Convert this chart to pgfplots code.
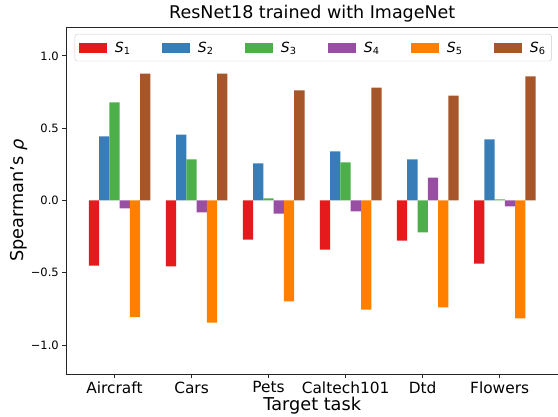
\documentclass[border=0pt]{standalone}
\usepackage{fontspec}
\setmainfont{DejaVu Sans}
\usepackage{pgfplots}
\pgfplotsset{compat=1.18}

\definecolor{c1}{HTML}{E41A1C}
\definecolor{c2}{HTML}{377EB8}
\definecolor{c3}{HTML}{4DAF4A}
\definecolor{c4}{HTML}{984EA3}
\definecolor{c5}{HTML}{FF7F00}
\definecolor{c6}{HTML}{A65628}

\newcommand{\fs}[1]{\fontsize{#1}{#1}\selectfont}
\newcommand{\Sx}[1]{{\itshape S}\textsubscript{#1}}

\begin{document}
\begin{tikzpicture}
\begin{axis}[
    at={(66.5pt,43pt)}, anchor=south west,
    width=491.5pt, height=347pt, scale only axis,
    xmin=-0.623, xmax=5.757,
    ymin=-1.2, ymax=1.2,
    ybar=0pt, bar width=0.13333,
    xtick={0,1,2,3,4,5},
    xticklabels={Aircraft,Cars,Pets,Caltech101,Dtd,Flowers},
    ytick={-1,-0.5,0,0.5,1},
    yticklabels={−1.0,−0.5,0.0,0.5,1.0},
    tick pos=left,
    tick align=outside,
    major tick length=4.2pt,
    tick style={black!85, line width=0.9pt},
    axis line style={black!85, line width=0.9pt},
    xticklabel style={font=\fs{15.4}},
    yticklabel style={font=\fs{11.5}},
    title={ResNet18 trained with ImageNet},
    title style={font=\fs{17.5}, at={(0.5,1)}, anchor=base, yshift=2pt},
    xlabel={Target task},
    xlabel style={font=\fs{17.7}, at={(0.5,0)}, anchor=base, yshift=-37pt},
    ylabel={Spearman's {\itshape ρ}},
    ylabel style={font=\fs{17.7}, at={(axis description cs:-0.0966,0.5)}, anchor=center},
    legend columns=6,
    legend image code/.code={\fill[#1, sharp corners] (0pt,-5pt) rectangle (28pt,5pt);},
    legend style={
        at={(0.502,0.98)}, anchor=north,
        draw=black!20, rounded corners=2.5pt, fill=white,
        font=\fs{14},
        inner xsep=4pt, inner ysep=5.5pt,
        column sep=6pt,
        /tikz/every even column/.append style={column sep=29.4pt},
    },
]
\addplot[fill=c1, draw=none, bar shift=-0.26667] coordinates {
    (0,-0.450) (1,-0.456) (2,-0.270) (3,-0.339) (4,-0.277) (5,-0.436)};
\addlegendentry{\Sx{1}}
\addplot[fill=c2, draw=none, bar shift=-0.13333] coordinates {
    (0,0.443) (1,0.456) (2,0.256) (3,0.339) (4,0.284) (5,0.422)};
\addlegendentry{\Sx{2}}
\addplot[fill=c3, draw=none, bar shift=0] coordinates {
    (0,0.678) (1,0.284) (2,0.014) (3,0.263) (4,-0.221) (5,0.007)};
\addlegendentry{\Sx{3}}
\addplot[fill=c4, draw=none, bar shift=0.13333] coordinates {
    (0,-0.055) (1,-0.083) (2,-0.090) (3,-0.076) (4,0.159) (5,-0.041)};
\addlegendentry{\Sx{4}}
\addplot[fill=c5, draw=none, bar shift=0.26667] coordinates {
    (0,-0.807) (1,-0.844) (2,-0.698) (3,-0.754) (4,-0.740) (5,-0.816)};
\addlegendentry{\Sx{5}}
\addplot[fill=c6, draw=none, bar shift=0.4] coordinates {
    (0,0.878) (1,0.878) (2,0.761) (3,0.781) (4,0.726) (5,0.858)};
\addlegendentry{\Sx{6}}
\end{axis}
\pgfresetboundingbox
\useasboundingbox (0,0) rectangle (558pt,417pt);
\end{tikzpicture}
\end{document}
